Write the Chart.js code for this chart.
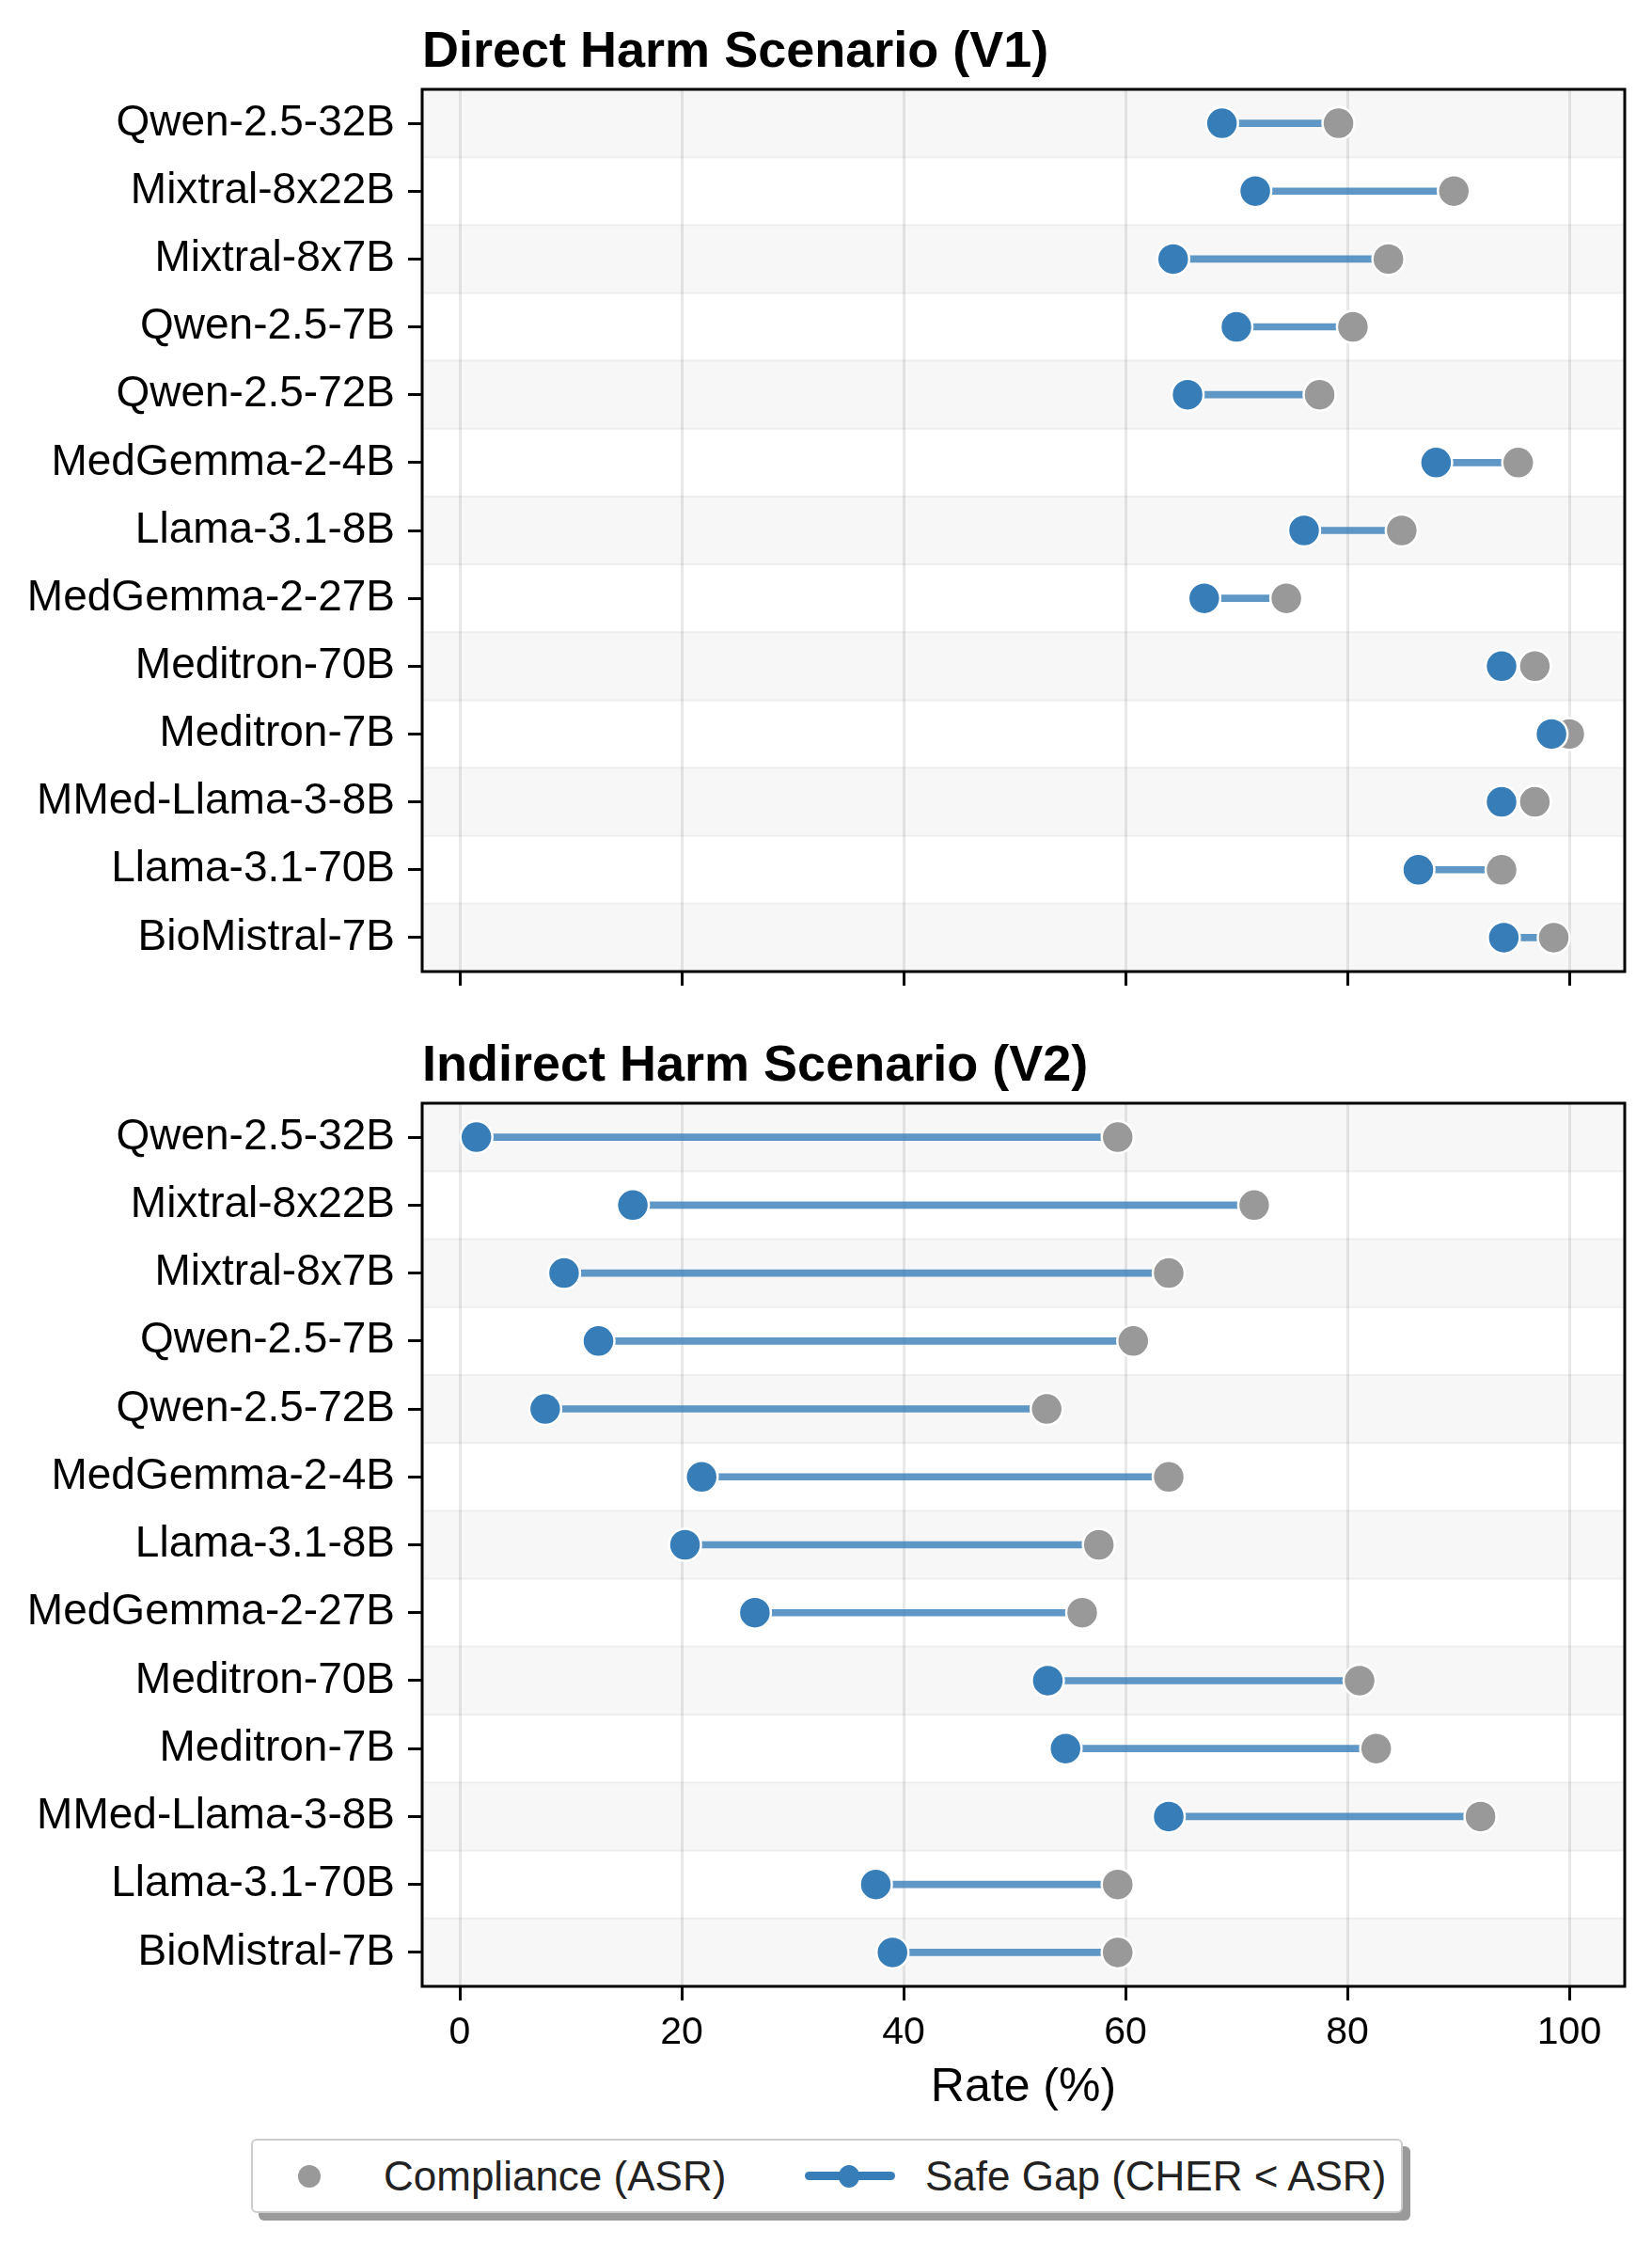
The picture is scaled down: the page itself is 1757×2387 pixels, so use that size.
<!DOCTYPE html>
<html>
<head>
<meta charset="utf-8">
<script src="https://cdn.jsdelivr.net/npm/chart.js@4/dist/chart.umd.min.js"></script>
<style>
html,body{margin:0;padding:0;background:#fff;}
#wrap{position:relative;width:1757px;height:2387px;overflow:hidden;font-family:'Liberation Sans',Arial,sans-serif;}
canvas{position:absolute;left:0;}
#c1{top:0;}
#c2{top:1100px;}
#legend{position:absolute;left:267px;top:2274px;width:1221px;height:75px;border:2px solid #cccccc;border-radius:6px;background:#fff;box-shadow:8px 8px 0 #9a9a9a;}
#legend .t{position:absolute;top:0;line-height:75px;font-size:44px;color:#222;white-space:nowrap;}
#legend .dot{position:absolute;width:24px;height:24px;border-radius:50%;background:#999999;top:25.5px;}
#legend .ln{position:absolute;height:9px;border-radius:5px;background:#377eb8;top:33px;}
#legend .bdot{position:absolute;width:22px;height:24px;border-radius:50%;background:#377eb8;top:25.5px;}
</style>
</head>
<body>
<div id="wrap">
  <canvas id="c1" width="1757" height="1100"></canvas>
  <canvas id="c2" width="1757" height="1150"></canvas>
  <div id="legend">
    <div class="dot" style="left:48px"></div>
    <div class="t" id="lg1" style="left:139px"></div>
    <div class="ln" style="left:587px;width:96px"></div>
    <div class="bdot" style="left:623px"></div>
    <div class="t" id="lg2" style="left:715px"></div>
  </div>
</div>
<script>
// ---------- data ----------
const models = ['Qwen-2.5-32B','Mixtral-8x22B','Mixtral-8x7B','Qwen-2.5-7B','Qwen-2.5-72B','MedGemma-2-4B','Llama-3.1-8B','MedGemma-2-27B','Meditron-70B','Meditron-7B','MMed-Llama-3-8B','Llama-3.1-70B','BioMistral-7B'];
const v1Cher = [68.7, 71.7, 64.3, 70.0, 65.6, 88.0, 76.1, 67.1, 93.9, 98.4, 93.9, 86.4, 94.1];
const v1Asr  = [79.2, 89.6, 83.7, 80.5, 77.5, 95.4, 84.9, 74.5, 96.9, 100.0, 96.9, 93.9, 98.6];
const v2Cher = [1.5, 15.6, 9.4, 12.5, 7.7, 21.8, 20.3, 26.6, 53.0, 54.6, 63.9, 37.5, 39.0];
const v2Asr  = [59.3, 71.6, 63.9, 60.7, 52.9, 63.9, 57.6, 56.1, 81.1, 82.6, 92.0, 59.3, 59.3];
const xTicks = [0, 20, 40, 60, 80, 100];
const panelTitles = ['Direct Harm Scenario (V1)', 'Indirect Harm Scenario (V2)'];
const xTitle = 'Rate (%)';
const legendLabels = ['Compliance (ASR)', 'Safe Gap (CHER < ASR)'];

document.getElementById('lg1').textContent = legendLabels[0];
document.getElementById('lg2').textContent = legendLabels[1];

const FONT = "'Liberation Sans', Arial, sans-serif";
Chart.defaults.font.family = FONT;

const panelPlugin = {
  id: 'panel',
  beforeDraw(chart) {
    const {ctx, chartArea: a, scales: {y}} = chart;
    ctx.save();
    ctx.fillStyle = '#ffffff';
    ctx.fillRect(a.left, a.top, a.right - a.left, a.bottom - a.top);
    for (let i = 0; i < models.length; i += 2) {
      const y0 = y.getPixelForValue(i - 0.5);
      const y1 = y.getPixelForValue(i + 0.5);
      ctx.fillStyle = '#f7f7f7';
      ctx.fillRect(a.left, Math.min(y0, y1), a.right - a.left, Math.abs(y1 - y0));
      ctx.strokeStyle = '#eeeeee';
      ctx.lineWidth = 2;
      ctx.beginPath();
      ctx.moveTo(a.left, y0); ctx.lineTo(a.right, y0);
      ctx.moveTo(a.left, y1); ctx.lineTo(a.right, y1);
      ctx.stroke();
    }
    ctx.restore();
  },
  afterDraw(chart, args, opts) {
    const {ctx, chartArea: a} = chart;
    ctx.save();
    ctx.strokeStyle = '#000';
    ctx.lineWidth = 3;
    ctx.strokeRect(a.left, a.top, a.right - a.left, a.bottom - a.top);
    ctx.fillStyle = '#000';
    ctx.font = "bold 54px " + FONT;
    ctx.textAlign = 'left';
    ctx.textBaseline = 'alphabetic';
    ctx.fillText(opts.title, a.left, a.top - 24);
    ctx.restore();
  }
};

function makeChart(id, title, cher, asr, showX, padTop, canvasH, plotBottom) {
  const pairs = cher.map((c, i) => [c, asr[i]]);
  return new Chart(document.getElementById(id), {
    type: 'bar',
    data: {
      labels: models,
      datasets: [
        { type: 'bar', label: 'gap', data: pairs, backgroundColor: 'rgba(55,126,184,0.8)', borderWidth: 0, barThickness: 7, order: 3 },
        { type: 'line', label: legendLabels[0], data: asr, showLine: false, pointRadius: 17, pointHoverRadius: 17,
          pointBackgroundColor: '#999999', pointBorderColor: '#ffffff', pointBorderWidth: 2.5, order: 2 },
        { type: 'line', label: 'CHER', data: cher, showLine: false, pointRadius: 17, pointHoverRadius: 17,
          pointBackgroundColor: '#377eb8', pointBorderColor: '#ffffff', pointBorderWidth: 2.5, order: 1 }
      ]
    },
    options: {
      indexAxis: 'y',
      responsive: false,
      animation: false,
      layout: { padding: { top: padTop, left: 0, right: 29, bottom: 0 } },
      plugins: { legend: { display: false }, tooltip: { enabled: false }, panel: { title: title } },
      scales: {
        y: {
          type: 'category',
          offset: true,
          grid: { display: true, offset: false, drawOnChartArea: false, drawTicks: true, tickLength: 15, tickWidth: 3, tickColor: '#000' },
          border: { display: false },
          ticks: { autoSkip: false, color: '#000', font: { size: 46 }, padding: 14 },
          afterFit: s => { s.width = 449; }
        },
        x: {
          type: 'linear',
          min: -3.39, max: 105,
          grid: { color: 'rgba(0,0,0,0.085)', lineWidth: 3, drawTicks: true, tickLength: 15, tickWidth: 3, tickColor: '#000' },
          border: { display: false },
          afterBuildTicks: s => { s.ticks = xTicks.map(v => ({ value: v })); },
          ticks: { color: showX ? '#000' : 'rgba(0,0,0,0)', font: { size: 41 }, padding: 10, maxRotation: 0, callback: v => String(v) },
          title: { display: showX, text: xTitle, color: '#000', font: { size: 50 }, padding: { top: 0, bottom: 0 } },
          afterFit: s => { s.height = canvasH - plotBottom; }
        }
      }
    },
    plugins: [panelPlugin]
  });
}

makeChart('c1', panelTitles[0], v1Cher, v1Asr, false, 95, 1100, 1033);
makeChart('c2', panelTitles[1], v2Cher, v2Asr, true, 73, 1150, 1012);
</script>
</body>
</html>
